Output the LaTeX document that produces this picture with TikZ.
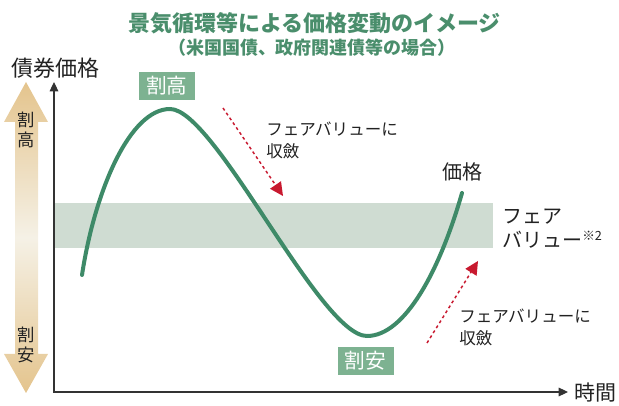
\documentclass[tikz,border=0pt]{standalone}
\usepackage{fontspec}
\setmainfont{Noto Sans CJK JP}
\usetikzlibrary{arrows.meta}
\definecolor{titlegreen}{HTML}{4A8E6C}
\definecolor{curvegreen}{HTML}{3E8A68}
\definecolor{boxgreen}{HTML}{7DB291}
\definecolor{bandgreen}{HTML}{CFDCD2}
\definecolor{tan}{HTML}{E4C48D}
\definecolor{tanlight}{HTML}{F5F1E6}
\definecolor{convred}{HTML}{C8192F}
\definecolor{axisgray}{HTML}{333333}
\definecolor{txt}{HTML}{222222}
\newcommand\myfs[2]{\fontsize{#1}{#2}\selectfont}
\begin{document}
\begin{tikzpicture}[x=0.75pt,y=-0.75pt,
  every node/.style={inner sep=0pt, text=txt},
  lbl/.style={font=\myfs{15}{18}},
  small/.style={font=\myfs{12.4}{16.5}, align=left, anchor=west},
  markbox/.style={fill=boxgreen, text=white, minimum width=42pt, minimum height=21pt, font=\myfs{15.5}{18}},
  convarrow/.style={draw=convred, line width=1.1pt, dash pattern=on 2.2pt off 2.2pt,
     -{Triangle[length=10pt,width=10pt,fill=convred,line width=0pt]}},
  axisline/.style={draw=axisgray, line width=0.8pt,
     {Triangle[length=7pt,width=6.5pt]}-{Triangle[length=7pt,width=6.5pt]}},
  pricecurve/.style={draw=curvegreen, line width=3pt, line cap=round}
]
\useasboundingbox (0,0) rectangle (619,406);

% titles
\node[font=\bfseries\myfs{16.5}{20}, text=titlegreen] (title) at (314.5,23) {景気循環等による価格変動のイメージ};
\node[font=\bfseries\myfs{13.5}{16}, text=titlegreen] (subtitle) at (312,48) {（米国国債、政府関連債等の場合）};

% fair value band
\fill[bandgreen] (54,203) rectangle (493,248);

% double arrow (cheap / expensive)
\shade[top color=tan, bottom color=tan, middle color=tanlight]
  (26,82) -- (48,122) -- (38,122) -- (38,354) -- (48,354) -- (26,393)
  -- (4,354) -- (15,354) -- (15,122) -- (4,122) -- cycle;
\node[font=\myfs{13}{15}, align=center] (hi) at (26,130) {割\\高};
\node[font=\myfs{13}{15}, align=center] (lo) at (26,345) {割\\安};

% axes
\coordinate (ytop) at (54,82);
\coordinate (xend) at (568,392);
\draw[axisline] (ytop) |- (xend);
\node[font=\myfs{16.5}{20}] (ylabel) at (56,68) {債券価格};
\node[font=\myfs{15.75}{18}, anchor=west] (xlabel) at (574,393) {時間};

% price curve
\coordinate (c0) at (82,275);
\coordinate (peak) at (170,109);
\coordinate (trough) at (367,336);
\coordinate (c3) at (462,193);
\draw[pricecurve] (c0) .. controls (95,190) and (130,109) .. (peak)
  .. controls (215,109) and (320,336) .. (trough)
  .. controls (405,336) and (440,270) .. (c3);

% labels
\node[markbox] (overvalued) at (167,86) {割高};
\node[markbox] (undervalued) at (365.5,361) {割安};
\node[lbl, font=\myfs{15}{18}] (price) at (462,172) {価格};
\node[lbl, anchor=west, align=left, font=\myfs{15}{17.5}] (fv) at (502,228.5) {フェア\\バリュー\raisebox{0.6ex}{\myfs{9.5}{9.5}※2}};

% convergence arrows
\coordinate (r1s) at (223,108);
\coordinate (r1e) at (283,196);
\draw[convarrow] (r1s) -- (r1e);
\node[small] (conv1) at (266,140.5) {フェアバリューに\\収斂};
\coordinate (r2s) at (427,343);
\coordinate (r2e) at (478,261);
\draw[convarrow] (r2s) -- (r2e);
\node[small] (conv2) at (459,327) {フェアバリューに\\収斂};
\end{tikzpicture}
\end{document}
